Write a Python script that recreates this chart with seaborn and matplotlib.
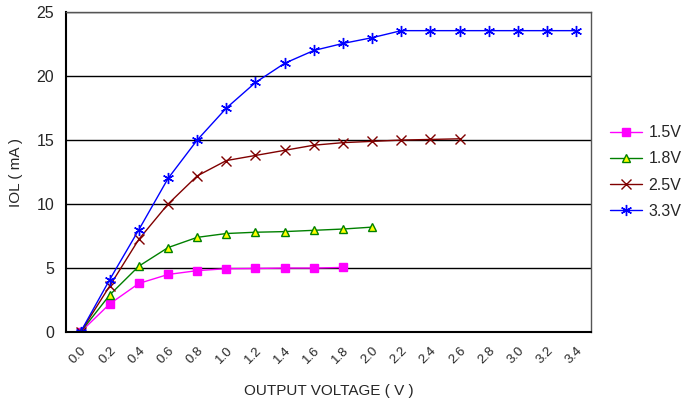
import numpy as np
import pandas as pd
import seaborn as sns
import matplotlib.pyplot as plt

# output voltage categories (V)
volts = [0.0, 0.2, 0.4, 0.6, 0.8, 1.0, 1.2, 1.4, 1.6, 1.8,
         2.0, 2.2, 2.4, 2.6, 2.8, 3.0, 3.2, 3.4]

# IOL (mA)
iol_15 = [0, 2.2, 3.8, 4.5, 4.8, 4.95, 4.97, 5.0, 5.0, 5.05]
iol_18 = [0, 2.9, 5.15, 6.6, 7.4, 7.7, 7.8, 7.85, 7.95, 8.05, 8.2]
iol_25 = [0, 3.6, 7.25, 10.0, 12.2, 13.4, 13.8, 14.2, 14.6, 14.8, 14.9, 15.0, 15.05, 15.1]
iol_33 = [0, 4.1, 8.0, 12.0, 15.0, 17.5, 19.5, 21.0, 22.0, 22.55, 23.0,
          23.55, 23.55, 23.55, 23.55, 23.55, 23.55, 23.55]

series = {"1.5V": iol_15, "1.8V": iol_18, "2.5V": iol_25, "3.3V": iol_33}

rows = []
for name, vals in series.items():
    for v, i in zip(volts, vals):
        rows.append({"V": v, "IOL": i, "supply": name})
df = pd.DataFrame(rows)

sns.set_style("white")
plt.rcParams['font.family'] = ['Liberation Sans', 'DejaVu Sans']

fig = plt.figure(figsize=(6.83, 4.03), dpi=100)
ax = fig.add_axes([0.0966, 0.176, 0.7684, 0.794])

styles = {
    "1.5V": dict(color="#FF00FF", marker="s", mfc="#FF00FF", mec="#FF00FF", ms=6),
    "1.8V": dict(color="#008000", marker="^", mfc="#FFFF00", mec="#008000", ms=6),
    "2.5V": dict(color="#800000", marker="x", mfc="#800000", mec="#800000", ms=7),
    "3.3V": dict(color="#0000FF", marker=(6, 2, 0), mfc="#0000FF", mec="#0000FF", ms=8),
}

for name in series:
    st = styles[name]
    sns.lineplot(data=df[df.supply == name], x="V", y="IOL", ax=ax, label=name,
                 color=st["color"], marker=st["marker"], markersize=st["ms"],
                 markerfacecolor=st["mfc"], markeredgecolor=st["mec"],
                 markeredgewidth=1.0, linewidth=1.0)

ax.set_xlim(-0.1, 3.5)
ax.set_ylim(0, 25)
ax.set_yticks([0, 5, 10, 15, 20, 25])
ax.yaxis.grid(True, color="black", linewidth=1.0)
ax.set_axisbelow(True)

# labels at category centres, tick marks at category boundaries
ax.set_xticks(volts)
ax.set_xticklabels([f"{v:.1f}" for v in volts], rotation=45, ha="right",
                   rotation_mode="anchor", fontsize=9.5)
ax.set_xticks(np.arange(-0.1, 3.55, 0.2), minor=True)
ax.tick_params(axis="x", which="major", length=0, pad=9)
ax.tick_params(axis="x", which="minor", length=4, width=1, color="black", direction="out")
ax.tick_params(axis="y", length=5, width=1, color="black", direction="out", labelsize=11.5)

for s in ["left", "bottom"]:
    ax.spines[s].set_color("black")
    ax.spines[s].set_linewidth(1.5)
for s in ["top", "right"]:
    ax.spines[s].set_color("#555555")
    ax.spines[s].set_linewidth(1.0)

ax.set_xlabel("OUTPUT VOLTAGE ( V )", fontsize=11, labelpad=13)
ax.set_ylabel("IOL ( mA )", fontsize=11, labelpad=10)

ax.legend(loc="center left", bbox_to_anchor=(1.037, 0.5), frameon=False,
          fontsize=11.5, handlelength=2.0, handletextpad=0.4, labelspacing=0.7,
          borderaxespad=0, borderpad=0)

fig.savefig("out.png", dpi=100)
